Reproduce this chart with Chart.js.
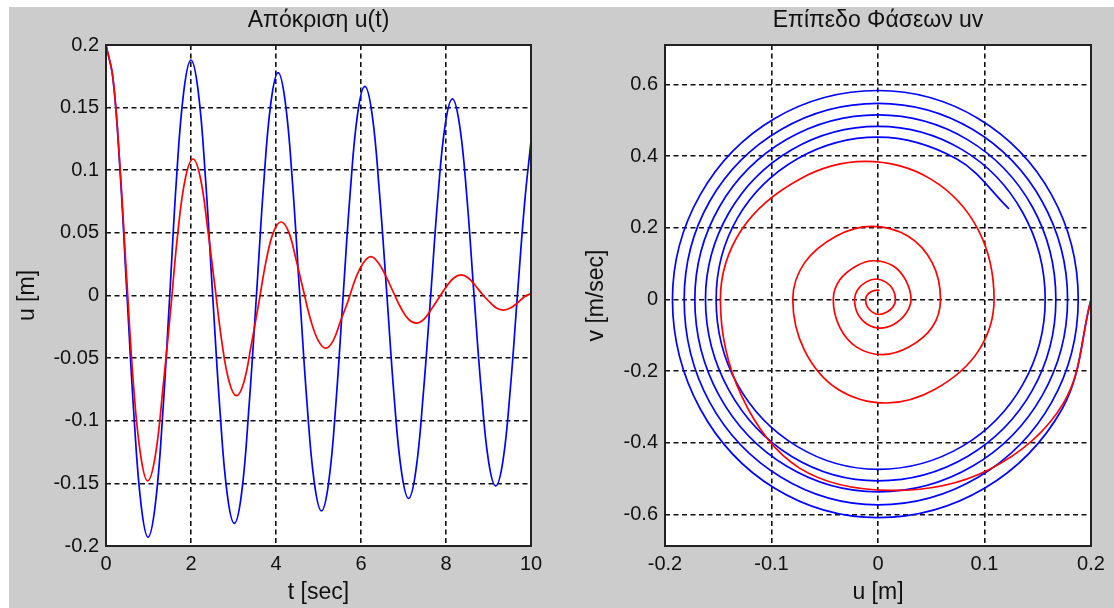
<!DOCTYPE html>
<html>
<head>
<meta charset="utf-8">
<script src="https://cdn.jsdelivr.net/npm/chart.js@4"></script>
<style>
html,body{margin:0;padding:0;background:#fff;}
#fig{position:absolute;left:9px;top:7px;width:1105px;height:601px;background:#cccccc;}
#c1{position:absolute;left:0;top:0;}
#c2{position:absolute;left:548px;top:0;}
</style>
</head>
<body>
<div id="fig">
<canvas id="c1" width="548" height="601"></canvas>
<canvas id="c2" width="557" height="601"></canvas>
</div>
<script>
// undamped-ish response (blue): time, displacement, velocity
const blueT = [0, 0.165, 0.33, 0.495, 0.66, 0.825, 0.99,
  1.16, 1.33, 1.5, 1.66, 1.83, 2.0,
  2.17, 2.34, 2.51, 2.68, 2.85, 3.02,
  3.19, 3.36, 3.54, 3.71, 3.88, 4.05,
  4.22, 4.39, 4.56, 4.73, 4.9, 5.07,
  5.24, 5.41, 5.58, 5.75, 5.92, 6.09,
  6.26, 6.43, 6.61, 6.78, 6.95, 7.12,
  7.29, 7.46, 7.64, 7.81, 7.98, 8.15,
  8.32, 8.49, 8.66, 8.83, 9.0, 9.17,
  9.34, 9.51, 9.68, 9.85, 10.0]
const blueU = [0.2, 0.173, 0.1, 0.0, -0.097, -0.167, -0.193,
  -0.167, -0.097, 0.0, 0.094, 0.163, 0.188,
  0.163, 0.094, 0.0, -0.091, -0.158, -0.182,
  -0.158, -0.091, 0.0, 0.089, 0.154, 0.178,
  0.154, 0.089, 0.0, -0.086, -0.149, -0.172,
  -0.149, -0.086, 0.0, 0.084, 0.145, 0.167,
  0.145, 0.084, 0.0, -0.081, -0.140, -0.162,
  -0.140, -0.081, 0.0, 0.079, 0.136, 0.157,
  0.136, 0.079, 0.0, -0.076, -0.132, -0.152,
  -0.132, -0.076, 0.0, 0.074, 0.123]
const blueV = [0, -0.305, -0.527, -0.609, -0.527, -0.305, 0,
  0.292, 0.505, 0.583, 0.505, 0.292, 0,
  -0.287, -0.496, -0.573, -0.496, -0.287, 0,
  0.274, 0.474, 0.547, 0.474, 0.274, 0,
  -0.269, -0.465, -0.537, -0.465, -0.269, 0,
  0.258, 0.446, 0.515, 0.446, 0.258, 0,
  -0.253, -0.438, -0.506, -0.438, -0.253, 0,
  0.242, 0.418, 0.483, 0.418, 0.242, 0,
  -0.237, -0.41, -0.474, -0.41, -0.237, 0,
  0.227, 0.392, 0.453, 0.392, 0.253]

// damped response (red)
const redT = [0, 0.163, 0.327, 0.49, 0.653, 0.817, 0.98,
  1.16, 1.34, 1.52, 1.69, 1.87, 2.05,
  2.22, 2.39, 2.56, 2.73, 2.9, 3.07,
  3.245, 3.42, 3.595, 3.77, 3.945, 4.12,
  4.295, 4.47, 4.645, 4.82, 4.995, 5.17,
  5.347, 5.523, 5.7, 5.877, 6.053, 6.23,
  6.41, 6.59, 6.77, 6.94, 7.12, 7.3,
  7.477, 7.653, 7.83, 8.007, 8.183, 8.36,
  8.525, 8.69, 8.855, 9.02, 9.185, 9.35,
  9.515, 9.68, 9.845, 10.0]
const redU = [0.2, 0.174, 0.104, 0.012, -0.074, -0.128, -0.148,
  -0.128, -0.074, -0.012, 0.05, 0.094, 0.109,
  0.094, 0.054, 0.008, -0.038, -0.069, -0.08,
  -0.069, -0.039, -0.006, 0.028, 0.051, 0.0587,
  0.051, 0.029, 0.004, -0.02, -0.036, -0.042,
  -0.036, -0.02, -0.004, 0.014, 0.026, 0.031,
  0.026, 0.015, 0.002, -0.01, -0.019, -0.022,
  -0.019, -0.011, -0.002, 0.007, 0.014, 0.0164,
  0.014, 0.008, 0.001, -0.005, -0.01, -0.0116,
  -0.01, -0.006, -0.001, 0.0016]
const redV = [0, -0.29, -0.475, -0.533, -0.47, -0.27, 0,
  0.195, 0.335, 0.385, 0.335, 0.195, 0,
  -0.145, -0.25, -0.289, -0.25, -0.142, 0,
  0.102, 0.177, 0.204, 0.177, 0.102, 0,
  -0.077, -0.133, -0.154, -0.133, -0.077, 0,
  0.054, 0.094, 0.108, 0.094, 0.054, 0,
  -0.04, -0.069, -0.08, -0.069, -0.04, 0,
  0.028, 0.049, 0.057, 0.049, 0.028, 0,
  -0.021, -0.036, -0.042, -0.036, -0.021, 0,
  0.013, 0.022, 0.026, 0.025]

const tTicks = [0, 2, 4, 6, 8, 10]
const tLabels = ["0", "2", "4", "6", "8", "10"]
const uTicks = [-0.2, -0.15, -0.1, -0.05, 0, 0.05, 0.1, 0.15, 0.2]
const uLabels = ["-0.2", "-0.15", "-0.1", "-0.05", "0", "0.05", "0.1", "0.15", "0.2"]
const phU = [-0.2, -0.1, 0, 0.1, 0.2]
const phULabels = ["-0.2", "-0.1", "0", "0.1", "0.2"]
const vTicks = [-0.6, -0.4, -0.2, 0, 0.2, 0.4, 0.6]
const vLabels = ["-0.6", "-0.4", "-0.2", "0", "0.2", "0.4", "0.6"]

Chart.defaults.font.family = "'Liberation Sans', Arial, sans-serif"
Chart.defaults.font.size = 20
Chart.defaults.color = "#111"

function pts(xs, ys){
  return xs.map((x,i)=>({x:x, y:ys[i]}))
}

// white plot area + black box like matlab
const boxPlugin = {
  id:"box",
  beforeDraw(chart){
    const a = chart.chartArea, ctx = chart.ctx
    ctx.save()
    ctx.fillStyle = "#fff"
    ctx.fillRect(a.left, a.top, a.right-a.left, a.bottom-a.top)
    ctx.restore()
  },
  afterDatasetsDraw(chart){
    const a = chart.chartArea, ctx = chart.ctx
    ctx.save()
    ctx.strokeStyle = "#222"
    ctx.lineWidth = 2
    ctx.strokeRect(a.left, a.top, a.right-a.left, a.bottom-a.top)
    ctx.restore()
  }
}

function axis(opt){
  return {
    type:"linear",
    min:opt.min,
    max:opt.max,
    afterBuildTicks: s => { s.ticks = opt.ticks.map(v=>({value:v})) },
    afterFit: s => { if(opt.horiz) s.height = opt.size; else s.width = opt.size },
    ticks:{
      autoSkip:false,
      maxRotation:0,
      padding:opt.tickPad,
      callback:(v,i)=>opt.labels[i]
    },
    grid:{color:"#111", lineWidth:1.6, drawTicks:false},
    border:{display:false, dash:[5,3.5]},
    title:{display:true, text:opt.title, color:"#111", font:{size:23}, padding:opt.titlePad}
  }
}

function line(data, color, tension){
  return {
    data:data,
    borderColor:color,
    borderWidth:1.7,
    pointRadius:0,
    fill:false,
    tension:tension
  }
}

new Chart(document.getElementById("c1"), {
  type:"line",
  data:{
    datasets:[
      line(pts(redT, redU), "#ff0000", 0.4),
      line(pts(blueT, blueU), "#0000ff", 0.4)
    ]
  },
  options:{
    responsive:false,
    animation:false,
    layout:{padding:{left:0, top:0, right:26, bottom:0}},
    plugins:{
      legend:{display:false},
      tooltip:{enabled:false},
      title:{display:true, text:"Απόκριση u(t)", fullSize:false, color:"#111",
        font:{size:23, weight:"normal"}, padding:{top:0, bottom:10.4}}
    },
    scales:{
      x: axis({min:0, max:10, ticks:tTicks, labels:tLabels, horiz:true, size:62,
        tickPad:6, title:"t [sec]", titlePad:{top:0, bottom:2}}),
      y: axis({min:-0.2, max:0.2, ticks:uTicks, labels:uLabels, horiz:false, size:97,
        tickPad:7, title:"u [m]", titlePad:{top:5, bottom:0}})
    }
  },
  plugins:[boxPlugin]
})

new Chart(document.getElementById("c2"), {
  type:"line",
  data:{
    datasets:[
      line(pts(redU, redV), "#ff0000", 0.36),
      line(pts(blueU, blueV), "#0000ff", 0.36)
    ]
  },
  options:{
    responsive:false,
    animation:false,
    layout:{padding:{left:0, top:0, right:23, bottom:0}},
    plugins:{
      legend:{display:false},
      tooltip:{enabled:false},
      title:{display:true, text:"Επίπεδο Φάσεων uv", fullSize:false, color:"#111",
        font:{size:23, weight:"normal"}, padding:{top:0, bottom:10.4}}
    },
    scales:{
      x: axis({min:-0.2, max:0.2, ticks:phU, labels:phULabels, horiz:true, size:62,
        tickPad:6, title:"u [m]", titlePad:{top:0, bottom:2}}),
      y: axis({min:-0.688, max:0.71, ticks:vTicks, labels:vLabels, horiz:false, size:108,
        tickPad:7, title:"v [m/sec]", titlePad:{top:26, bottom:0}})
    }
  },
  plugins:[boxPlugin]
})
</script>
</body>
</html>
